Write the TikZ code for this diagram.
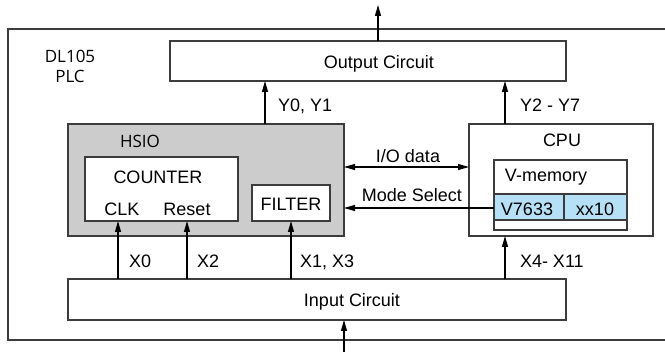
\documentclass[tikz,border=0pt]{standalone}
\usepackage{fontspec}
\setmainfont{Liberation Sans}
\newfontfamily\hum{Open Sans}
\usetikzlibrary{arrows.meta}
\definecolor{lineg}{HTML}{3C3C3C}
\definecolor{hsiog}{HTML}{CCCCCC}
\definecolor{memblue}{HTML}{B5E0F5}
\tikzset{
  box/.style={draw=lineg, line width=1.2pt, inner sep=0pt, outer sep=0pt},
  txt/.style={inner sep=0pt, outer sep=0pt, font=\fontsize{18}{20}\selectfont, anchor=base},
  ltxt/.style={txt, anchor=base west},
  htxt/.style={txt, font=\hum\fontsize{17}{20}\selectfont},
  arr/.style={draw=black, line width=1.1pt, -{Triangle[length=11pt,width=6pt]}},
  darr/.style={draw=black, line width=1.1pt, {Triangle[length=11pt,width=6pt]}-{Triangle[length=11pt,width=6pt]}},
  plain/.style={draw=black, line width=1.1pt}
}
\begin{document}
\begin{tikzpicture}[x=1pt,y=-1pt]
\useasboundingbox (0,0) rectangle (665,352);
\clip (0,0) rectangle (665,352);
% outer frame
\draw[draw=lineg, line width=1.3pt] (8,29) rectangle (700,340);
\node[htxt] (dl) at (70,63) {DL105};
\node[htxt] (plc) at (70,83) {PLC};
% output circuit
\node[box, minimum width=396pt, minimum height=40pt] (output) at (368,61) {};
\node[txt] (outtxt) at (379,69) {Output Circuit};
% input circuit
\node[box, minimum width=498pt, minimum height=41pt] (input) at (317,299.5) {};
\node[txt] (intxt) at (352,307) {Input Circuit};
% HSIO
\node[box, fill=hsiog, minimum width=276pt, minimum height=112pt] (hsio) at (206,180) {};
\node[htxt] (hsiotxt) at (140,148) {HSIO};
\node[box, fill=white, minimum width=153pt, minimum height=64pt] (counter) at (161.5,189) {};
\node[txt] (countertxt) at (158,184) {COUNTER};
\node[txt] (clk) at (122,216) {CLK};
\node[txt] (reset) at (187,216) {Reset};
\node[box, fill=white, minimum width=78pt, minimum height=36pt] (filter) at (291,203) {};
\node[txt] (filtertxt) at (291,211) {FILTER};
% CPU
\node[box, minimum width=184pt, minimum height=112pt] (cpu) at (561,180) {};
\node[txt] (cputxt) at (562,147) {CPU};
\node[box, minimum width=133pt, minimum height=70pt] (vmem) at (560.5,195) {};
\node[txt] (vmemtxt) at (546,182) {V-memory};
\node[box, fill=memblue, minimum width=70pt, minimum height=26pt] (v7633) at (529,207) {};
\node[box, fill=memblue, minimum width=63pt, minimum height=26pt] (xx10) at (595.5,207) {};
\node[txt] (v7633txt) at (527,216) {V7633};
\node[txt] (xx10txt) at (595,216) {xx10};
% x positions
\coordinate (cY0) at (265,0);
\coordinate (cY2) at (505,0);
\coordinate (cX0) at (118,0);
\coordinate (cX2) at (187,0);
\coordinate (cX1) at (291,0);
\coordinate (cX4) at (505,0);
\coordinate (cTop) at (378,5);
\coordinate (cBot) at (344,352);
\coordinate (cIO) at (0,167);
\coordinate (cMode) at (0,208);
% arrows
\draw[arr] (output.north -| cTop) -- (cTop);
\draw[arr] (cBot) -- (input.south -| cBot);
\draw[arr] (hsio.north -| cY0) -- (output.south -| cY0);
\draw[arr] (cpu.north -| cY2) -- (output.south -| cY2);
\draw[arr] (input.north -| cX0) -- (counter.south -| cX0);
\draw[arr] (input.north -| cX2) -- (counter.south -| cX2);
\draw[arr] (input.north -| cX1) -- (filter.south -| cX1);
\draw[arr] (input.north -| cX4) -- (cpu.south -| cX4);
\draw[darr] (hsio.east |- cIO) -- (cpu.west |- cIO);
\draw[arr] (vmem.west |- cMode) -- (hsio.east |- cMode);
% labels
\node[ltxt] (ly0) at (278,112) {Y0, Y1};
\node[ltxt] (ly2) at (520,112) {Y2 - Y7};
\node[ltxt] (lx0) at (129,268) {X0};
\node[ltxt] (lx2) at (197,268) {X2};
\node[ltxt] (lx1) at (300,268) {X1, X3};
\node[ltxt] (lx4) at (520,268) {X4- X11};
\node[txt] (lio) at (408,163) {I/O data};
\node[txt] (lmode) at (412,202) {Mode Select};
\end{tikzpicture}
\end{document}
